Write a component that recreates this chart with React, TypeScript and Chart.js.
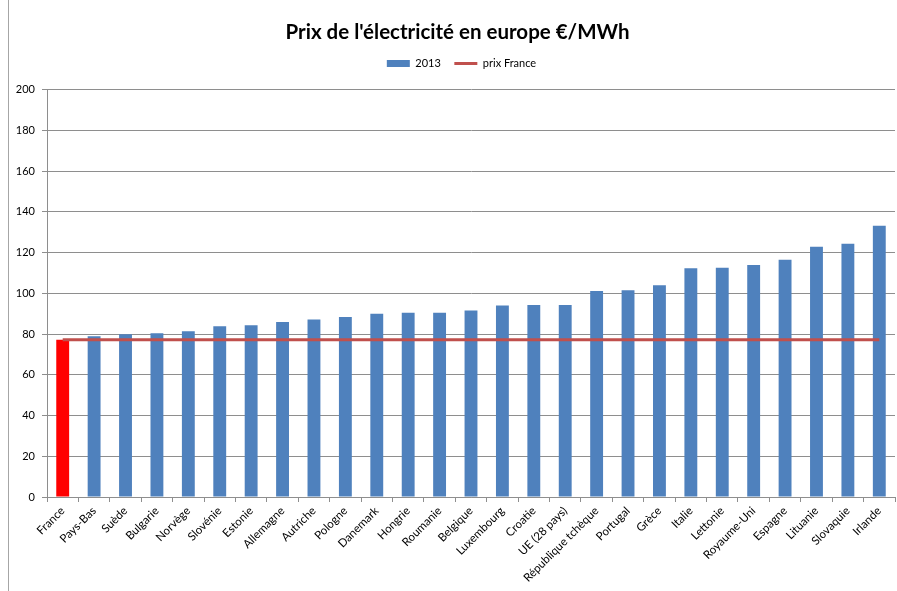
import React, { useEffect, useRef } from 'react';
import { Chart, registerables } from 'chart.js';

Chart.register(...registerables);

const categories = [
  'France', 'Pays-Bas', 'Suède', 'Bulgarie', 'Norvège', 'Slovénie', 'Estonie',
  'Allemagne', 'Autriche', 'Pologne', 'Danemark', 'Hongrie', 'Roumanie', 'Belgique',
  'Luxembourg', 'Croatie', 'UE (28 pays)', 'République tchèque', 'Portugal', 'Grèce',
  'Italie', 'Lettonie', 'Royaume-Uni', 'Espagne', 'Lituanie', 'Slovaquie', 'Irlande',
];

const values2013 = [
  77.2, 78.9, 79.9, 80.4, 81.4, 83.8, 84.3,
  85.9, 87.1, 88.4, 90.0, 90.5, 90.5, 91.6,
  94.0, 94.3, 94.3, 101.1, 101.5, 103.9,
  112.3, 112.6, 113.9, 116.5, 122.9, 124.3, 133.2,
];

const prixFrance = [
  77.2, 77.2, 77.2, 77.2, 77.2, 77.2, 77.2,
  77.2, 77.2, 77.2, 77.2, 77.2, 77.2, 77.2,
  77.2, 77.2, 77.2, 77.2, 77.2, 77.2,
  77.2, 77.2, 77.2, 77.2, 77.2, 77.2, 77.2,
];

const yTicks = [0, 20, 40, 60, 80, 100, 120, 140, 160, 180, 200];

const BLUE = '#4F81BD';
const RED_BAR = '#FF0000';
const RED_LINE = '#C0504D';
const GRID = '#8E8E8E';
const FONT = 'Lato';

export default function App() {
  const ref = useRef<HTMLCanvasElement | null>(null);

  useEffect(() => {
    if (!ref.current) return;
    const barColors = categories.map((c) => (c === 'France' ? RED_BAR : BLUE));
    const legendPush = {
      id: 'legendPush',
      beforeInit(chart: any) {
        const orig = chart.legend.fit;
        chart.legend.fit = function () {
          orig.bind(chart.legend)();
          this.height += 10.5;
        };
      },
      afterLayout(chart: any) {
        chart.legend.left += 14;
        chart.legend.right += 14;
        if (chart.titleBlock) {
          chart.titleBlock.left += 10;
          chart.titleBlock.right += 10;
        }
      },
    };
    const chart = new Chart(ref.current, {
      type: 'bar',
      data: {
        labels: categories,
        datasets: [
          {
            type: 'line' as const,
            label: 'prix France',
            data: prixFrance,
            borderColor: RED_LINE,
            backgroundColor: RED_LINE,
            borderWidth: 3,
            pointRadius: 0,
            order: 0,
          },
          {
            type: 'bar' as const,
            label: '2013',
            data: values2013,
            backgroundColor: barColors,
            borderWidth: 0,
            barPercentage: 0.41,
            categoryPercentage: 1,
            order: 1,
          },
        ],
      },
      plugins: [legendPush],
      options: {
        responsive: true,
        maintainAspectRatio: false,
        animation: false,
        layout: { padding: { left: 0, right: 2, top: 0, bottom: 0 } },
        plugins: {
          title: {
            display: true,
            text: "Prix de l'électricité en europe €/MWh",
            color: '#000',
            font: { family: FONT, size: 20.5, weight: 'bold', lineHeight: 1.2 },
            padding: { top: 20, bottom: 0 },
          },
          legend: {
            display: true,
            position: 'top',
            labels: {
              color: '#000',
              font: { family: FONT, size: 11 },
              usePointStyle: true,
              pointStyleWidth: 23,
              boxHeight: 7,
              padding: 13.5,
              generateLabels: () => [
                {
                  text: '2013', fillStyle: BLUE, strokeStyle: BLUE, lineWidth: 0,
                  pointStyle: 'rect', datasetIndex: 1, hidden: false,
                } as any,
                {
                  text: 'prix France', fillStyle: RED_LINE, strokeStyle: RED_LINE, lineWidth: 3,
                  pointStyle: 'line', datasetIndex: 0, hidden: false,
                } as any,
              ],
            },
          },
          tooltip: { enabled: false },
        },
        scales: {
          x: {
            offset: true,
            grid: { offset: true, drawOnChartArea: false, tickLength: 5, color: GRID },
            border: { color: GRID, width: 1 },
            ticks: {
              color: '#000',
              font: { family: FONT, size: 11.5 },
              minRotation: 45,
              maxRotation: 45,
              autoSkip: false,
              padding: 2,
            },
            afterFit: (s: any) => { s.height = 94; },
          },
          y: {
            min: 0,
            max: 200,
            afterBuildTicks: (s: any) => { s.ticks = yTicks.map((v) => ({ value: v })); },
            grid: { color: GRID, tickLength: 5 },
            border: { color: GRID, width: 1 },
            ticks: {
              color: '#000',
              font: { family: FONT, size: 11 },
              padding: 7,
            },
            afterFit: (s: any) => { s.width = 47; },
          },
        },
      },
    });
    return () => chart.destroy();
  }, []);

  return (
    <div style={{ position: 'absolute', left: 0, top: 0, width: 897, height: 591, background: '#fff' }}>
      <div style={{ position: 'absolute', left: 8, top: 0, width: 1, height: 591, background: '#A6A6A6' }} />
      <canvas ref={ref} style={{ position: 'absolute', left: 0, top: 0 }} />
    </div>
  );
}
